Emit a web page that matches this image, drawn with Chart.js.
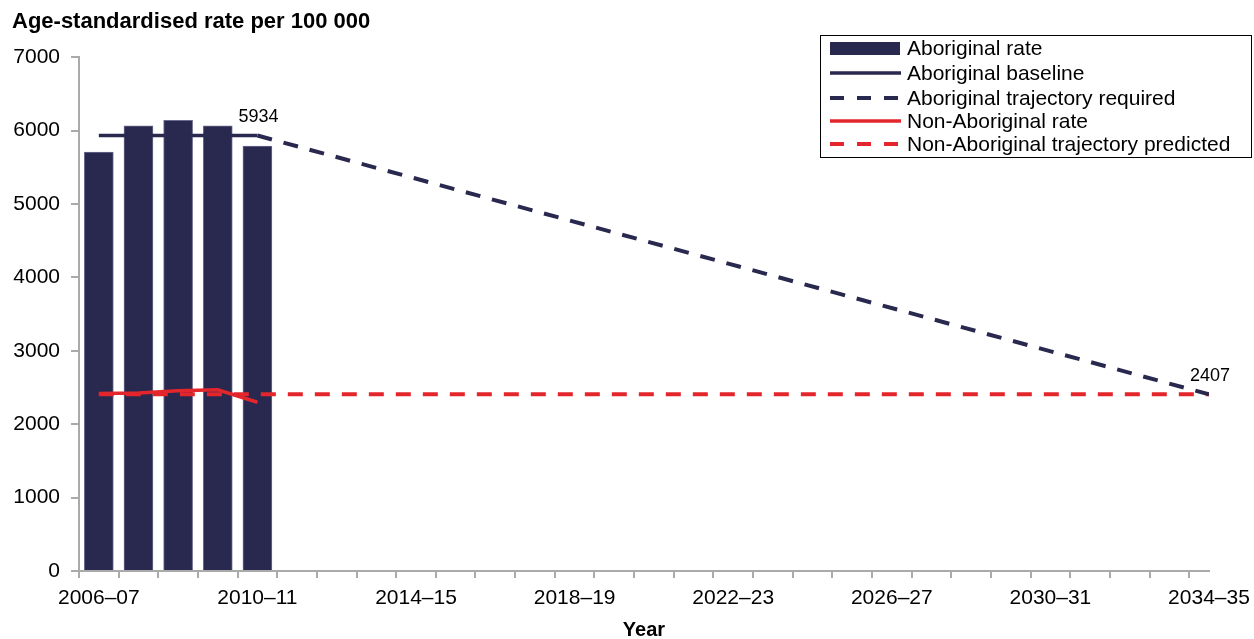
<!DOCTYPE html>
<html>
<head>
<meta charset="utf-8">
<script src="https://cdn.jsdelivr.net/npm/chart.js@4/dist/chart.umd.min.js"></script>
<style>
  html, body { margin: 0; padding: 0; background: #fff; }
  #wrap { width: 1254px; height: 639px; position: relative; }
</style>
</head>
<body>
<div id="wrap"><canvas id="c" width="1254" height="639"></canvas></div>
<script>
// Financial years on the horizontal axis
const categories = [
  '2006–07', '2007–08', '2008–09', '2009–10', '2010–11', '2011–12', '2012–13',
  '2013–14', '2014–15', '2015–16', '2016–17', '2017–18', '2018–19', '2019–20',
  '2020–21', '2021–22', '2022–23', '2023–24', '2024–25', '2025–26', '2026–27',
  '2027–28', '2028–29', '2029–30', '2030–31', '2031–32', '2032–33', '2033–34',
  '2034–35'
];

// Observed years
const observedYears = ['2006–07', '2007–08', '2008–09', '2009–10', '2010–11'];
const aboriginalRate = [5710, 6065, 6140, 6065, 5790];
const aboriginalBaseline = [5934, 5934, 5934, 5934, 5934];
const nonAboriginalRate = [2420, 2425, 2455, 2470, 2300];

// Projections
const aboriginalTrajectoryYears = ['2010–11', '2034–35'];
const aboriginalTrajectory = [5934, 2407];
const nonAboriginalTrajectoryYears = ['2006–07', '2034–35'];
const nonAboriginalTrajectory = [2407, 2407];

// Labelled end points of the required trajectory
const labelledYears = ['2010–11', '2034–35'];
const labelledValues = [5934, 2407];

const yTicks = [0, 1000, 2000, 3000, 4000, 5000, 6000, 7000];

const NAVY = '#29284f';
const RED = '#e3262c';
const FONT = '"Liberation Sans", Arial, Helvetica, sans-serif';

const idx = (y) => categories.indexOf(y);
const pts = (years, vals) => years.map((y, i) => ({ x: idx(y), y: vals[i] }));

// Boxed legend in the upper right corner
const boxedLegend = {
  id: 'boxedLegend',
  afterDraw(chart) {
    const ctx = chart.ctx;
    const items = chart.data.datasets.slice().sort((a, b) => a.legendRank - b.legendRank);
    const x0 = 820, y0 = 35, w = 431, h = 122;
    const rows = [48, 73, 98, 121, 144];
    ctx.save();
    ctx.strokeStyle = '#000';
    ctx.lineWidth = 1;
    ctx.strokeRect(x0 + 0.5, y0 + 0.5, w, h);
    ctx.font = '21px ' + FONT;
    ctx.textBaseline = 'middle';
    items.forEach((ds, i) => {
      const cy = rows[i];
      if (ds.type === 'bar') {
        ctx.fillStyle = ds.backgroundColor;
        ctx.fillRect(830, cy - 6, 70, 13);
      } else {
        ctx.strokeStyle = ds.borderColor;
        ctx.lineWidth = ds.borderDash ? 4 : 3.5;
        ctx.setLineDash(ds.borderDash ? [14, 13] : []);
        ctx.beginPath();
        ctx.moveTo(830, cy);
        ctx.lineTo(901, cy);
        ctx.stroke();
        ctx.setLineDash([]);
      }
      ctx.fillStyle = '#000';
      ctx.fillText(ds.label, 907, cy + 1);
    });
    ctx.restore();
  }
};

// Value labels above the trajectory end points
const endLabels = {
  id: 'endLabels',
  afterDatasetsDraw(chart) {
    const ctx = chart.ctx;
    const xs = chart.scales.x, ys = chart.scales.y;
    ctx.save();
    ctx.font = '18px ' + FONT;
    ctx.fillStyle = '#000';
    ctx.textAlign = 'center';
    ctx.textBaseline = 'middle';
    labelledYears.forEach((yr, i) => {
      const px = xs.getPixelForValue(idx(yr)) + 1;
      const py = ys.getPixelForValue(labelledValues[i]) - 18;
      ctx.fillText(String(labelledValues[i]), px, py);
    });
    ctx.restore();
  }
};

new Chart(document.getElementById('c'), {
  type: 'bar',
  data: {
    datasets: [
      {
        type: 'bar',
        label: 'Aboriginal rate',
        legendRank: 0,
        data: pts(observedYears, aboriginalRate),
        backgroundColor: NAVY,
        borderColor: '#6c6b8e',
        borderWidth: 1,
        barThickness: 29,
        order: 10
      },
      {
        type: 'line',
        label: 'Aboriginal baseline',
        legendRank: 1,
        data: pts(observedYears, aboriginalBaseline),
        borderColor: NAVY,
        borderWidth: 3.5,
        pointRadius: 0,
        tension: 0,
        order: 3
      },
      {
        type: 'line',
        label: 'Aboriginal trajectory required',
        legendRank: 2,
        data: pts(aboriginalTrajectoryYears, aboriginalTrajectory),
        borderColor: NAVY,
        borderWidth: 4,
        borderDash: [15, 12],
        pointRadius: 0,
        tension: 0,
        order: 2
      },
      {
        type: 'line',
        label: 'Non-Aboriginal rate',
        legendRank: 3,
        data: pts(observedYears, nonAboriginalRate),
        borderColor: RED,
        borderWidth: 3.5,
        pointRadius: 0,
        tension: 0,
        order: 1
      },
      {
        type: 'line',
        label: 'Non-Aboriginal trajectory predicted',
        legendRank: 4,
        data: pts(nonAboriginalTrajectoryYears, nonAboriginalTrajectory),
        borderColor: RED,
        borderWidth: 4,
        borderDash: [15, 12],
        pointRadius: 0,
        tension: 0,
        order: 4
      }
    ]
  },
  options: {
    responsive: false,
    animation: false,
    layout: { padding: { top: 9, left: 12, right: 0, bottom: 0 } },
    plugins: {
      legend: { display: false },
      tooltip: { enabled: false },
      title: {
        display: true,
        text: 'Age-standardised rate per 100 000',
        align: 'start',
        color: '#000',
        font: { family: FONT, size: 22, weight: 'bold', lineHeight: 1.15 },
        padding: { top: 0, bottom: 23 }
      }
    },
    scales: {
      x: {
        type: 'linear',
        min: -0.5,
        max: categories.length - 1,
        offset: false,
        afterBuildTicks(scale) {
          scale.ticks = categories.map((c, i) => ({ value: i }));
        },
        afterFit(scale) { scale.height = 68; scale.paddingRight = 45; },
        grid: { drawOnChartArea: false, drawTicks: true, tickLength: 7, color: '#aaaaaa', lineWidth: 2 },
        border: { color: '#aaaaaa', width: 2 },
        ticks: {
          autoSkip: false,
          maxRotation: 0,
          color: '#000',
          padding: 8,
          font: { family: FONT, size: 21 },
          callback: (v) => (Number.isInteger(v) && v % 4 === 0) ? categories[v] : ''
        },
        title: {
          display: true,
          text: 'Year',
          color: '#000',
          font: { family: FONT, size: 20, weight: 'bold', lineHeight: 1 },
          padding: { top: 0, bottom: -1 }
        }
      },
      y: {
        min: 0,
        max: 7000,
        afterBuildTicks(scale) {
          scale.ticks = yTicks.map(v => ({ value: v }));
        },
        afterFit(scale) { scale.width = 67; },
        grid: { drawOnChartArea: false, drawTicks: true, tickLength: 8, color: '#aaaaaa', lineWidth: 2 },
        border: { color: '#aaaaaa', width: 2 },
        ticks: {
          color: '#000',
          padding: 11,
          font: { family: FONT, size: 21 },
          callback: (v) => String(v)
        }
      }
    }
  },
  plugins: [endLabels, boxedLegend]
});
</script>
</body>
</html>
